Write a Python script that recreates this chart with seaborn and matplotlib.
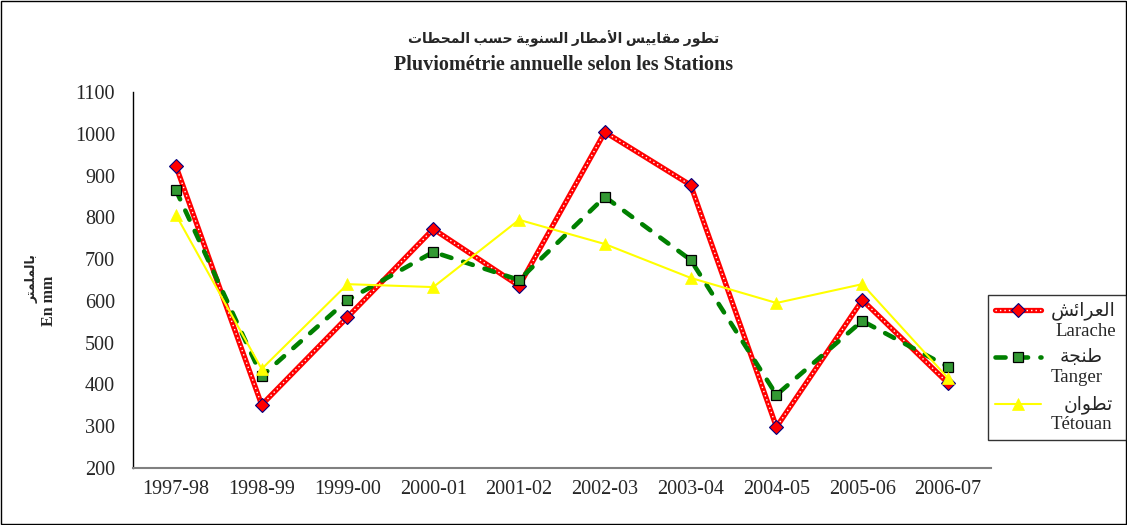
import pandas as pd
import seaborn as sns
import matplotlib.pyplot as plt
from matplotlib.lines import Line2D
from matplotlib.legend_handler import HandlerTuple, HandlerLine2D
from matplotlib.ticker import FixedLocator

# Season labels and yearly rainfall (mm) per station
seasons = ['1997-98', '1998-99', '1999-00', '2000-01', '2001-02',
           '2002-03', '2003-04', '2004-05', '2005-06', '2006-07']
larache = [923, 351, 561, 772, 636, 1004, 877, 298, 602, 403]
tanger = [865, 420, 602, 717, 650, 849, 698, 375, 552, 442]
tetouan = [806, 437, 640, 633, 794, 736, 655, 595, 640, 415]

title_ar = 'تطور مقاييس الأمطار السنوية حسب المحطات'
title_fr = 'Pluviométrie annuelle selon les Stations'
ylabel_ar = 'بالملمتر'
ylabel_fr = 'En mm'
names_ar = ['العرائش', 'طنجة', 'تطوان']
names_fr = ['Larache', 'Tanger', 'Tétouan']

# Arabic presentation forms: isolated, final, initial, medial
FORMS = {
    'ا': (0xFE8D, 0xFE8E, None, None), 'أ': (0xFE83, 0xFE84, None, None),
    'ب': (0xFE8F, 0xFE90, 0xFE91, 0xFE92), 'ة': (0xFE93, 0xFE94, None, None),
    'ت': (0xFE95, 0xFE96, 0xFE97, 0xFE98), 'ج': (0xFE9D, 0xFE9E, 0xFE9F, 0xFEA0),
    'ح': (0xFEA1, 0xFEA2, 0xFEA3, 0xFEA4), 'ر': (0xFEAD, 0xFEAE, None, None),
    'س': (0xFEB1, 0xFEB2, 0xFEB3, 0xFEB4), 'ش': (0xFEB5, 0xFEB6, 0xFEB7, 0xFEB8),
    'ط': (0xFEC1, 0xFEC2, 0xFEC3, 0xFEC4), 'ع': (0xFEC9, 0xFECA, 0xFECB, 0xFECC),
    'ق': (0xFED5, 0xFED6, 0xFED7, 0xFED8), 'ل': (0xFEDD, 0xFEDE, 0xFEDF, 0xFEE0),
    'م': (0xFEE1, 0xFEE2, 0xFEE3, 0xFEE4), 'ن': (0xFEE5, 0xFEE6, 0xFEE7, 0xFEE8),
    'و': (0xFEED, 0xFEEE, None, None), 'ي': (0xFEF1, 0xFEF2, 0xFEF3, 0xFEF4),
    'ئ': (0xFE89, 0xFE8A, 0xFE8B, 0xFE8C),
}
LAM_ALEF = {'ا': (0xFEFB, 0xFEFC), 'أ': (0xFEF7, 0xFEF8)}


def shape(text):
    # join arabic letters and put them in visual (left to right) order
    def joins_left(c):
        return c in FORMS and FORMS[c][2] is not None
    out = []
    i = 0
    while i < len(text):
        c = text[i]
        prev = i > 0 and joins_left(text[i - 1]) and c in FORMS
        if c == 'ل' and i + 1 < len(text) and text[i + 1] in LAM_ALEF:
            out.append(chr(LAM_ALEF[text[i + 1]][1 if prev else 0]))
            i += 2
            continue
        if c not in FORMS:
            out.append(c)
            i += 1
            continue
        nxt = joins_left(c) and i + 1 < len(text) and text[i + 1] in FORMS
        iso, fin, ini, med = FORMS[c]
        if prev and nxt:
            code = med
        elif prev:
            code = fin
        elif nxt:
            code = ini
        else:
            code = iso
        out.append(chr(code))
        i += 1
    return ''.join(out[::-1])


# legend handle drawn level with the first (arabic) line of its label
class FirstLineHandler(HandlerLine2D):
    def create_artists(self, legend, orig_handle, xdescent, ydescent, width,
                       height, fontsize, trans):
        artists = super().create_artists(legend, orig_handle, xdescent, ydescent,
                                         width, height, fontsize, trans)
        for a in artists:
            a.set_ydata([y + 0.55 * fontsize for y in a.get_ydata()])
        return artists


df = pd.DataFrame({'season': seasons, 'Larache': larache,
                   'Tanger': tanger, 'Tetouan': tetouan})

sns.set_style('white')
plt.rcParams['font.family'] = ['Liberation Serif', 'DejaVu Sans']

fig = plt.figure(figsize=(11.27, 5.25), dpi=100)
ax = fig.add_axes([0.118, 0.1086, 0.7613, 0.7162])

red_kw = dict(color='#FF0000', linewidth=3.8)
dot_kw = dict(color='white', linewidth=1.0, linestyle=(0, (1, 2.2)))
dia_kw = dict(marker='D', markersize=7.5, markerfacecolor='#FF0000',
              markeredgecolor='#000080', markeredgewidth=0.8)
grn_kw = dict(color='#008000', linewidth=3.3, linestyle=(0, (2.2, 2.7)),
              dash_capstyle='round', marker='s', markersize=7.5,
              markerfacecolor='#339933', markeredgecolor='black', markeredgewidth=0.9)
yel_kw = dict(color='#FFFF00', linewidth=1.5, marker='^', markersize=8.5,
              markerfacecolor='#FFFF00', markeredgecolor='#FFFF00', markeredgewidth=0.5)

# Larache: thick red line with white dots, red diamonds
sns.lineplot(data=df, x='season', y='Larache', ax=ax, sort=False, **red_kw)
sns.lineplot(data=df, x='season', y='Larache', ax=ax, sort=False, **dot_kw)
sns.lineplot(data=df, x='season', y='Larache', ax=ax, sort=False, linewidth=0, **dia_kw)
# Tanger: dashed green line, green squares
sns.lineplot(data=df, x='season', y='Tanger', ax=ax, sort=False, **grn_kw)
# Tetouan: thin yellow line, yellow triangles
sns.lineplot(data=df, x='season', y='Tetouan', ax=ax, sort=False, **yel_kw)

ax.set_xlim(-0.5, len(seasons) - 0.5)
ax.set_ylim(200, 1100)
ax.set_yticks(range(200, 1101, 100))
ax.xaxis.set_minor_locator(FixedLocator([k - 0.5 for k in range(len(seasons) + 1)]))
ax.tick_params(axis='x', which='major', length=0, pad=9, labelsize=14.5)
ax.tick_params(axis='x', which='minor', length=4, width=1, color='#606060', direction='out')
ax.tick_params(axis='y', length=4, width=1, color='black', direction='out',
               labelsize=14.5, pad=9)
ax.set_xlabel('')
ax.set_ylabel('')
for side in ['top', 'right']:
    ax.spines[side].set_visible(False)
ax.spines['left'].set_color('black')
ax.spines['left'].set_linewidth(1)
ax.spines['bottom'].set_color('#808080')
ax.spines['bottom'].set_linewidth(1.5)

# y axis title, arabic and french lines
ax.text(-0.118, 0.503, shape(ylabel_ar), transform=ax.transAxes, rotation=90,
        ha='center', va='center', fontsize=9, fontweight='bold')
ax.text(-0.098, 0.445, ylabel_fr, transform=ax.transAxes, rotation=90,
        ha='center', va='center', fontsize=11.5, fontweight='bold')

fig.text(0.50, 0.926, shape(title_ar), ha='center', va='center', fontsize=10,
         fontweight='bold')
fig.text(0.50, 0.877, title_fr, ha='center', va='center', fontsize=14.5,
         fontweight='bold')

# legend handles
h1 = (Line2D([], [], **red_kw), Line2D([], [], **dot_kw),
      Line2D([], [], linestyle='none', **dia_kw))
h2 = Line2D([], [], **grn_kw)
h3 = Line2D([], [], **yel_kw)
labels = [shape(a) + '\n' + f for a, f in zip(names_ar, names_fr)]
leg = fig.legend([h1, h2, h3], labels, loc='upper left',
                 bbox_to_anchor=(0.8767, 0.1676, 0.1224, 0.2705), mode='expand',
                 handler_map={tuple: HandlerTuple(ndivide=1), Line2D: FirstLineHandler()},
                 fontsize=13.5, frameon=True, fancybox=False, edgecolor='black',
                 handlelength=2.5, borderpad=0.35, labelspacing=0.5, handletextpad=0.5,
                 borderaxespad=0)
leg.get_frame().set_linewidth(1)
for t in leg.get_texts():
    t.set_multialignment('right')
    t.set_linespacing(1.2)

# border round the whole figure
fig.patches.append(plt.Rectangle((0.001, 0.002), 0.998, 0.996, transform=fig.transFigure,
                                 fill=False, edgecolor='black', linewidth=1))

plt.savefig('out.png', dpi=100)
